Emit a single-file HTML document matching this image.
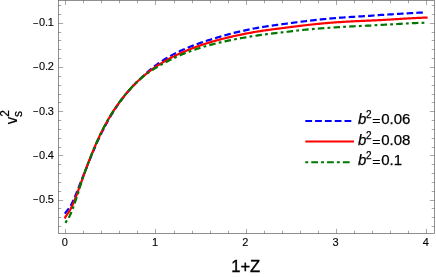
<!DOCTYPE html>
<html><head><meta charset="utf-8"><title>plot</title>
<style>html,body{margin:0;padding:0;background:#fff;}body{width:436px;height:277px;position:relative;overflow:hidden;font-family:"Liberation Sans",sans-serif;} .t, .t text, .t tspan{font-family:"Liberation Sans",sans-serif;}</style></head>
<body>
<svg width="436" height="277" viewBox="0 0 436 277" style="position:absolute;left:0;top:0;will-change:transform">
<rect width="436" height="277" fill="#fff"/>
<g fill="none" stroke-width="2.2" stroke-linejoin="round">
<path d="M64.90,213.70 L65.35,213.00 L65.80,212.36 L66.26,211.75 L66.71,211.17 L67.16,210.61 L67.61,210.04 L68.06,209.47 L68.51,208.88 L68.97,208.27 L69.42,207.64 L69.87,206.97 L70.32,206.26 L70.77,205.52 L71.23,204.73 L71.68,203.89 L72.13,202.99 L72.58,202.06 L73.03,201.08 L73.48,200.07 L73.94,199.03 L74.39,197.97 L74.84,196.91 L75.29,195.84 L75.74,194.78 L76.20,193.70 L76.65,192.60 L77.10,191.48 L77.55,190.33 L78.00,189.16 L78.46,187.98 L78.91,186.80 L79.36,185.62 L79.81,184.45 L80.26,183.29 L80.71,182.14 L81.17,180.99 L81.62,179.84 L82.07,178.70 L82.52,177.58 L82.97,176.45 L83.43,175.33 L83.88,174.20 L84.33,173.07 L84.78,171.93 L85.23,170.79 L85.68,169.64 L86.14,168.50 L86.59,167.36 L87.04,166.22 L87.49,165.09 L87.94,163.97 L88.40,162.87 L88.85,161.78 L89.30,160.69 L89.75,159.62 L90.20,158.54 L90.65,157.48 L91.11,156.42 L91.56,155.35 L92.01,154.29 L92.46,153.23 L92.91,152.16 L93.37,151.09 L93.82,150.01 L94.27,148.93 L94.72,147.87 L95.17,146.81 L95.63,145.76 L96.08,144.72 L96.53,143.69 L96.98,142.67 L97.43,141.66 L97.88,140.66 L98.34,139.66 L98.79,138.68 L99.24,137.71 L99.69,136.75 L100.14,135.80 L100.60,134.86 L101.05,133.93 L101.50,133.00 L101.95,132.09 L102.40,131.19 L102.85,130.29 L103.31,129.41 L103.76,128.53 L104.21,127.66 L104.66,126.80 L105.11,125.94 L105.57,125.10 L106.02,124.26 L106.47,123.43 L106.92,122.61 L107.37,121.79 L107.82,120.99 L108.28,120.19 L108.73,119.39 L109.18,118.61 L109.63,117.83 L110.08,117.06 L110.54,116.30 L110.99,115.54 L111.44,114.80 L111.89,114.05 L112.34,113.32 L112.79,112.59 L113.25,111.87 L113.70,111.16 L114.15,110.46 L114.60,109.76 L115.05,109.06 L115.51,108.38 L115.96,107.70 L116.41,107.03 L116.86,106.36 L117.31,105.70 L117.77,105.04 L118.22,104.40 L118.67,103.75 L119.12,103.12 L119.57,102.48 L120.02,101.86 L120.48,101.24 L120.93,100.62 L121.38,100.01 L121.83,99.41 L122.28,98.81 L122.74,98.22 L123.19,97.63 L123.64,97.05 L124.09,96.47 L124.54,95.89 L124.99,95.32 L125.45,94.76 L125.90,94.20 L126.35,93.64 L126.80,93.09 L127.25,92.54 L127.71,92.00 L128.16,91.46 L128.61,90.92 L129.06,90.39 L129.51,89.87 L129.96,89.34 L130.42,88.83 L130.87,88.32 L131.32,87.82 L131.77,87.32 L132.22,86.82 L132.68,86.34 L133.13,85.85 L133.58,85.38 L134.03,84.91 L134.48,84.44 L134.94,83.98 L135.39,83.52 L135.84,83.07 L136.29,82.62 L136.74,82.18 L137.19,81.74 L137.65,81.30 L138.10,80.87 L138.55,80.44 L139.00,80.01 L139.45,79.58 L139.91,79.16 L140.36,78.73 L140.81,78.31 L141.26,77.88 L141.71,77.45 L142.16,77.02 L142.62,76.58 L143.07,76.15 L143.52,75.72 L143.97,75.29 L144.42,74.87 L144.88,74.44 L145.33,74.02 L145.78,73.61 L146.23,73.20 L146.68,72.79 L147.13,72.39 L147.59,72.00 L148.04,71.61 L148.49,71.22 L148.94,70.83 L149.39,70.45 L149.85,70.07 L150.30,69.69 L150.75,69.32 L151.20,68.95 L151.65,68.58 L152.11,68.21 L152.56,67.85 L153.01,67.49 L153.46,67.14 L153.91,66.79 L154.36,66.44 L154.82,66.09 L155.27,65.75 L155.72,65.41 L156.17,65.08 L156.62,64.74 L157.08,64.42 L157.53,64.09 L157.98,63.77 L158.43,63.45 L158.88,63.13 L159.33,62.81 L159.79,62.50 L160.24,62.19 L160.69,61.88 L161.14,61.58 L161.59,61.27 L162.05,60.98 L162.50,60.68 L162.95,60.39 L163.40,60.10 L163.85,59.81 L164.30,59.53 L164.76,59.25 L165.21,58.97 L165.66,58.70 L166.11,58.43 L166.56,58.16 L167.02,57.89 L167.47,57.63 L167.92,57.37 L168.37,57.11 L168.82,56.85 L169.27,56.60 L169.73,56.34 L170.18,56.09 L170.63,55.84 L171.08,55.60 L171.53,55.35 L171.99,55.11 L172.44,54.87 L172.89,54.63 L173.34,54.39 L173.79,54.15 L174.25,53.92 L174.70,53.69 L175.15,53.46 L175.60,53.23 L176.05,53.00 L176.50,52.78 L176.96,52.55 L177.41,52.33 L177.86,52.11 L178.31,51.89 L178.76,51.67 L179.22,51.46 L179.67,51.24 L180.12,51.03 L180.57,50.82 L181.02,50.61 L181.47,50.40 L181.93,50.19 L182.38,49.99 L182.83,49.79 L183.28,49.59 L183.73,49.39 L184.19,49.19 L184.64,48.99 L185.09,48.80 L185.54,48.60 L185.99,48.41 L186.44,48.22 L186.90,48.03 L187.35,47.84 L187.80,47.66 L188.25,47.47 L188.70,47.29 L189.16,47.11 L189.61,46.92 L190.06,46.74 L190.51,46.57 L190.96,46.39 L191.42,46.21 L191.87,46.03 L192.32,45.86 L192.77,45.68 L193.22,45.51 L193.67,45.34 L194.13,45.17 L194.58,45.00 L195.03,44.83 L195.48,44.66 L195.93,44.49 L196.39,44.33 L196.84,44.16 L197.29,44.00 L197.74,43.84 L198.19,43.67 L198.64,43.51 L199.10,43.35 L199.55,43.19 L200.00,43.03 L201.13,42.64 L202.26,42.26 L203.38,41.87 L204.51,41.50 L205.64,41.13 L206.77,40.76 L207.90,40.40 L209.03,40.05 L210.15,39.69 L211.28,39.34 L212.41,39.00 L213.54,38.65 L214.67,38.31 L215.79,37.97 L216.92,37.63 L218.05,37.29 L219.18,36.96 L220.31,36.63 L221.43,36.30 L222.56,35.98 L223.69,35.66 L224.82,35.34 L225.95,35.03 L227.08,34.72 L228.20,34.41 L229.33,34.11 L230.46,33.81 L231.59,33.51 L232.72,33.22 L233.84,32.93 L234.97,32.65 L236.10,32.38 L237.23,32.10 L238.36,31.84 L239.48,31.58 L240.61,31.32 L241.74,31.06 L242.87,30.81 L244.00,30.56 L245.13,30.31 L246.25,30.07 L247.38,29.83 L248.51,29.60 L249.64,29.37 L250.77,29.14 L251.89,28.92 L253.02,28.70 L254.15,28.48 L255.28,28.27 L256.41,28.06 L257.54,27.86 L258.66,27.66 L259.79,27.47 L260.92,27.28 L262.05,27.09 L263.18,26.91 L264.30,26.73 L265.43,26.55 L266.56,26.38 L267.69,26.21 L268.82,26.04 L269.94,25.88 L271.07,25.72 L272.20,25.56 L273.33,25.40 L274.46,25.24 L275.59,25.09 L276.71,24.93 L277.84,24.78 L278.97,24.63 L280.10,24.48 L281.23,24.33 L282.35,24.18 L283.48,24.03 L284.61,23.88 L285.74,23.73 L286.87,23.58 L287.99,23.43 L289.12,23.27 L290.25,23.12 L291.38,22.97 L292.51,22.82 L293.64,22.67 L294.76,22.52 L295.89,22.37 L297.02,22.22 L298.15,22.08 L299.28,21.93 L300.40,21.78 L301.53,21.64 L302.66,21.50 L303.79,21.36 L304.92,21.22 L306.05,21.09 L307.17,20.95 L308.30,20.82 L309.43,20.69 L310.56,20.57 L311.69,20.44 L312.81,20.31 L313.94,20.18 L315.07,20.06 L316.20,19.93 L317.33,19.81 L318.45,19.69 L319.58,19.57 L320.71,19.45 L321.84,19.33 L322.97,19.21 L324.10,19.10 L325.22,18.98 L326.35,18.87 L327.48,18.76 L328.61,18.65 L329.74,18.54 L330.86,18.44 L331.99,18.34 L333.12,18.24 L334.25,18.15 L335.38,18.06 L336.51,17.97 L337.63,17.88 L338.76,17.80 L339.89,17.71 L341.02,17.63 L342.15,17.55 L343.27,17.48 L344.40,17.40 L345.53,17.32 L346.66,17.25 L347.79,17.17 L348.91,17.10 L350.04,17.02 L351.17,16.95 L352.30,16.88 L353.43,16.81 L354.56,16.74 L355.68,16.67 L356.81,16.60 L357.94,16.54 L359.07,16.47 L360.20,16.41 L361.32,16.34 L362.45,16.28 L363.58,16.21 L364.71,16.15 L365.84,16.08 L366.96,16.02 L368.09,15.95 L369.22,15.88 L370.35,15.80 L371.48,15.71 L372.61,15.61 L373.73,15.51 L374.86,15.40 L375.99,15.30 L377.12,15.20 L378.25,15.11 L379.37,15.03 L380.50,14.97 L381.63,14.90 L382.76,14.84 L383.89,14.78 L385.02,14.71 L386.14,14.64 L387.27,14.58 L388.40,14.51 L389.53,14.44 L390.66,14.37 L391.78,14.30 L392.91,14.23 L394.04,14.16 L395.17,14.09 L396.30,14.02 L397.42,13.95 L398.55,13.88 L399.68,13.81 L400.81,13.74 L401.94,13.67 L403.07,13.60 L404.19,13.53 L405.32,13.46 L406.45,13.39 L407.58,13.32 L408.71,13.26 L409.83,13.19 L410.96,13.12 L412.09,13.06 L413.22,13.00 L414.35,12.94 L415.47,12.88 L416.60,12.82 L417.73,12.76 L418.86,12.71 L419.99,12.65 L421.12,12.60 L422.24,12.55 L423.37,12.50 L424.50,12.45" stroke="#0000ff" stroke-dasharray="6.6 3.08"/>
<path d="M64.60,218.52 L65.05,217.68 L65.51,216.90 L65.96,216.17 L66.41,215.48 L66.86,214.81 L67.32,214.16 L67.77,213.50 L68.22,212.84 L68.68,212.17 L69.13,211.48 L69.58,210.76 L70.03,210.01 L70.49,209.22 L70.94,208.39 L71.39,207.52 L71.85,206.60 L72.30,205.64 L72.75,204.63 L73.20,203.59 L73.66,202.51 L74.11,201.40 L74.56,200.27 L75.02,199.12 L75.47,197.94 L75.92,196.75 L76.37,195.55 L76.83,194.34 L77.28,193.12 L77.73,191.88 L78.19,190.65 L78.64,189.40 L79.09,188.15 L79.54,186.90 L80.00,185.64 L80.45,184.39 L80.90,183.13 L81.36,181.87 L81.81,180.61 L82.26,179.35 L82.71,178.09 L83.17,176.84 L83.62,175.59 L84.07,174.34 L84.53,173.09 L84.98,171.85 L85.43,170.62 L85.88,169.38 L86.34,168.16 L86.79,166.94 L87.24,165.73 L87.69,164.52 L88.15,163.32 L88.60,162.13 L89.05,160.94 L89.51,159.77 L89.96,158.60 L90.41,157.44 L90.86,156.29 L91.32,155.15 L91.77,154.01 L92.22,152.89 L92.68,151.78 L93.13,150.67 L93.58,149.58 L94.03,148.49 L94.49,147.42 L94.94,146.35 L95.39,145.30 L95.85,144.26 L96.30,143.22 L96.75,142.20 L97.20,141.18 L97.66,140.18 L98.11,139.19 L98.56,138.21 L99.02,137.23 L99.47,136.27 L99.92,135.32 L100.37,134.38 L100.83,133.45 L101.28,132.53 L101.73,131.61 L102.19,130.71 L102.64,129.82 L103.09,128.93 L103.54,128.06 L104.00,127.19 L104.45,126.33 L104.90,125.48 L105.36,124.64 L105.81,123.81 L106.26,122.99 L106.71,122.17 L107.17,121.36 L107.62,120.56 L108.07,119.77 L108.53,118.99 L108.98,118.21 L109.43,117.44 L109.88,116.68 L110.34,115.93 L110.79,115.18 L111.24,114.44 L111.70,113.71 L112.15,112.98 L112.60,112.27 L113.05,111.55 L113.51,110.85 L113.96,110.15 L114.41,109.46 L114.87,108.78 L115.32,108.10 L115.77,107.43 L116.22,106.76 L116.68,106.10 L117.13,105.45 L117.58,104.80 L118.04,104.16 L118.49,103.53 L118.94,102.90 L119.39,102.28 L119.85,101.66 L120.30,101.05 L120.75,100.44 L121.21,99.84 L121.66,99.25 L122.11,98.66 L122.56,98.07 L123.02,97.50 L123.47,96.92 L123.92,96.36 L124.38,95.79 L124.83,95.23 L125.28,94.68 L125.73,94.13 L126.19,93.59 L126.64,93.05 L127.09,92.52 L127.55,91.99 L128.00,91.47 L128.45,90.95 L128.90,90.44 L129.36,89.93 L129.81,89.42 L130.26,88.92 L130.72,88.43 L131.17,87.93 L131.62,87.45 L132.07,86.96 L132.53,86.49 L132.98,86.01 L133.43,85.54 L133.88,85.08 L134.34,84.61 L134.79,84.16 L135.24,83.70 L135.70,83.25 L136.15,82.81 L136.60,82.36 L137.05,81.93 L137.51,81.49 L137.96,81.06 L138.41,80.63 L138.87,80.21 L139.32,79.79 L139.77,79.38 L140.22,78.97 L140.68,78.56 L141.13,78.15 L141.58,77.75 L142.04,77.35 L142.49,76.96 L142.94,76.57 L143.39,76.18 L143.85,75.80 L144.30,75.41 L144.75,75.04 L145.21,74.66 L145.66,74.29 L146.11,73.92 L146.56,73.56 L147.02,73.20 L147.47,72.84 L147.92,72.48 L148.38,72.13 L148.83,71.78 L149.28,71.44 L149.73,71.09 L150.19,70.75 L150.64,70.42 L151.09,70.08 L151.55,69.75 L152.00,69.42 L152.45,69.10 L152.90,68.77 L153.36,68.45 L153.81,68.13 L154.26,67.82 L154.72,67.51 L155.17,67.20 L155.62,66.89 L156.07,66.59 L156.53,66.28 L156.98,65.98 L157.43,65.69 L157.89,65.39 L158.34,65.10 L158.79,64.81 L159.24,64.52 L159.70,64.23 L160.15,63.95 L160.60,63.67 L161.06,63.39 L161.51,63.11 L161.96,62.84 L162.41,62.57 L162.87,62.30 L163.32,62.03 L163.77,61.76 L164.23,61.50 L164.68,61.24 L165.13,60.98 L165.58,60.72 L166.04,60.46 L166.49,60.21 L166.94,59.96 L167.40,59.70 L167.85,59.46 L168.30,59.21 L168.75,58.96 L169.21,58.72 L169.66,58.48 L170.11,58.24 L170.57,58.00 L171.02,57.77 L171.47,57.53 L171.92,57.30 L172.38,57.07 L172.83,56.84 L173.28,56.61 L173.74,56.39 L174.19,56.16 L174.64,55.94 L175.09,55.72 L175.55,55.50 L176.00,55.28 L176.45,55.06 L176.91,54.85 L177.36,54.63 L177.81,54.42 L178.26,54.21 L178.72,54.00 L179.17,53.79 L179.62,53.59 L180.07,53.38 L180.53,53.18 L180.98,52.97 L181.43,52.77 L181.89,52.57 L182.34,52.37 L182.79,52.18 L183.24,51.98 L183.70,51.79 L184.15,51.59 L184.60,51.40 L185.06,51.21 L185.51,51.02 L185.96,50.83 L186.41,50.65 L186.87,50.46 L187.32,50.27 L187.77,50.09 L188.23,49.91 L188.68,49.73 L189.13,49.55 L189.58,49.37 L190.04,49.19 L190.49,49.01 L190.94,48.84 L191.40,48.66 L191.85,48.49 L192.30,48.32 L192.75,48.15 L193.21,47.98 L193.66,47.81 L194.11,47.64 L194.57,47.47 L195.02,47.30 L195.47,47.14 L195.92,46.98 L196.38,46.81 L196.83,46.65 L197.28,46.49 L197.74,46.33 L198.19,46.17 L198.64,46.01 L199.09,45.85 L199.55,45.70 L200.00,45.54 L201.14,45.15 L202.29,44.77 L203.43,44.40 L204.57,44.02 L205.72,43.66 L206.86,43.30 L208.01,42.94 L209.15,42.59 L210.29,42.25 L211.44,41.91 L212.58,41.57 L213.72,41.24 L214.87,40.92 L216.01,40.60 L217.16,40.28 L218.30,39.97 L219.44,39.67 L220.59,39.36 L221.73,39.06 L222.87,38.77 L224.02,38.48 L225.16,38.20 L226.31,37.91 L227.45,37.64 L228.59,37.36 L229.74,37.09 L230.88,36.82 L232.02,36.56 L233.17,36.30 L234.31,36.05 L235.46,35.79 L236.60,35.55 L237.74,35.30 L238.89,35.06 L240.03,34.82 L241.17,34.58 L242.32,34.35 L243.46,34.12 L244.61,33.90 L245.75,33.67 L246.89,33.45 L248.04,33.24 L249.18,33.02 L250.32,32.81 L251.47,32.60 L252.61,32.39 L253.75,32.19 L254.90,31.99 L256.04,31.79 L257.19,31.60 L258.33,31.41 L259.47,31.23 L260.62,31.05 L261.76,30.87 L262.90,30.70 L264.05,30.53 L265.19,30.36 L266.34,30.20 L267.48,30.04 L268.62,29.88 L269.77,29.72 L270.91,29.57 L272.05,29.42 L273.20,29.27 L274.34,29.12 L275.49,28.97 L276.63,28.83 L277.77,28.68 L278.92,28.54 L280.06,28.39 L281.20,28.25 L282.35,28.11 L283.49,27.97 L284.64,27.82 L285.78,27.68 L286.92,27.53 L288.07,27.39 L289.21,27.24 L290.35,27.10 L291.50,26.95 L292.64,26.81 L293.78,26.66 L294.93,26.52 L296.07,26.37 L297.22,26.23 L298.36,26.09 L299.50,25.95 L300.65,25.81 L301.79,25.67 L302.93,25.53 L304.08,25.40 L305.22,25.27 L306.37,25.14 L307.51,25.01 L308.65,24.89 L309.80,24.76 L310.94,24.64 L312.08,24.52 L313.23,24.39 L314.37,24.27 L315.52,24.15 L316.66,24.03 L317.80,23.92 L318.95,23.80 L320.09,23.69 L321.23,23.58 L322.38,23.47 L323.52,23.36 L324.67,23.25 L325.81,23.15 L326.95,23.05 L328.10,22.95 L329.24,22.86 L330.38,22.76 L331.53,22.68 L332.67,22.59 L333.82,22.50 L334.96,22.42 L336.10,22.34 L337.25,22.26 L338.39,22.19 L339.53,22.11 L340.68,22.04 L341.82,21.97 L342.96,21.90 L344.11,21.83 L345.25,21.76 L346.40,21.69 L347.54,21.63 L348.68,21.56 L349.83,21.50 L350.97,21.43 L352.11,21.37 L353.26,21.31 L354.40,21.25 L355.55,21.19 L356.69,21.14 L357.83,21.08 L358.98,21.03 L360.12,20.98 L361.26,20.93 L362.41,20.88 L363.55,20.83 L364.70,20.78 L365.84,20.73 L366.98,20.68 L368.13,20.63 L369.27,20.58 L370.41,20.53 L371.56,20.49 L372.70,20.44 L373.85,20.39 L374.99,20.33 L376.13,20.28 L377.28,20.23 L378.42,20.17 L379.56,20.12 L380.71,20.06 L381.85,20.00 L382.99,19.94 L384.14,19.87 L385.28,19.81 L386.43,19.75 L387.57,19.68 L388.71,19.61 L389.86,19.54 L391.00,19.48 L392.14,19.41 L393.29,19.34 L394.43,19.27 L395.58,19.20 L396.72,19.13 L397.86,19.05 L399.01,18.98 L400.15,18.91 L401.29,18.84 L402.44,18.77 L403.58,18.70 L404.73,18.64 L405.87,18.57 L407.01,18.50 L408.16,18.43 L409.30,18.37 L410.44,18.31 L411.59,18.24 L412.73,18.18 L413.88,18.12 L415.02,18.06 L416.16,18.01 L417.31,17.95 L418.45,17.90 L419.59,17.85 L420.74,17.80 L421.88,17.75 L423.03,17.71 L424.17,17.66 L425.31,17.61 L426.46,17.57 L427.60,17.53" stroke="#ff0000"/>
<path d="M65.40,222.80 L65.85,222.08 L66.30,221.38 L66.75,220.70 L67.20,220.02 L67.65,219.33 L68.10,218.64 L68.55,217.92 L69.00,217.18 L69.45,216.36 L69.90,215.46 L70.35,214.47 L70.80,213.44 L71.25,212.38 L71.70,211.27 L72.15,210.11 L72.60,208.91 L73.05,207.68 L73.50,206.42 L73.95,205.14 L74.40,203.87 L74.85,202.61 L75.30,201.34 L75.75,200.07 L76.20,198.79 L76.65,197.47 L77.10,196.12 L77.55,194.73 L78.00,193.31 L78.45,191.87 L78.91,190.41 L79.36,188.91 L79.81,187.39 L80.26,185.89 L80.71,184.44 L81.16,182.99 L81.61,181.58 L82.06,180.21 L82.51,178.86 L82.96,177.52 L83.41,176.21 L83.86,174.94 L84.31,173.69 L84.76,172.46 L85.21,171.23 L85.66,170.00 L86.11,168.78 L86.56,167.56 L87.01,166.35 L87.46,165.15 L87.91,163.95 L88.36,162.76 L88.81,161.58 L89.26,160.41 L89.71,159.24 L90.16,158.09 L90.61,156.94 L91.06,155.80 L91.51,154.67 L91.96,153.54 L92.41,152.43 L92.86,151.33 L93.31,150.23 L93.76,149.15 L94.21,148.07 L94.66,147.01 L95.11,145.96 L95.56,144.91 L96.01,143.88 L96.46,142.85 L96.91,141.84 L97.36,140.83 L97.81,139.84 L98.26,138.86 L98.71,137.89 L99.16,136.92 L99.61,135.97 L100.06,135.03 L100.51,134.09 L100.96,133.17 L101.41,132.26 L101.86,131.35 L102.31,130.46 L102.76,129.57 L103.21,128.69 L103.66,127.83 L104.11,126.97 L104.56,126.12 L105.01,125.27 L105.46,124.44 L105.92,123.61 L106.37,122.80 L106.82,121.99 L107.27,121.19 L107.72,120.39 L108.17,119.61 L108.62,118.83 L109.07,118.06 L109.52,117.30 L109.97,116.54 L110.42,115.79 L110.87,115.05 L111.32,114.32 L111.77,113.59 L112.22,112.87 L112.67,112.16 L113.12,111.45 L113.57,110.76 L114.02,110.06 L114.47,109.38 L114.92,108.70 L115.37,108.02 L115.82,107.36 L116.27,106.70 L116.72,106.04 L117.17,105.39 L117.62,104.75 L118.07,104.11 L118.52,103.48 L118.97,102.86 L119.42,102.24 L119.87,101.63 L120.32,101.02 L120.77,100.42 L121.22,99.82 L121.67,99.23 L122.12,98.65 L122.57,98.07 L123.02,97.49 L123.47,96.92 L123.92,96.36 L124.37,95.80 L124.82,95.24 L125.27,94.69 L125.72,94.15 L126.17,93.61 L126.62,93.07 L127.07,92.54 L127.52,92.02 L127.97,91.50 L128.42,90.98 L128.87,90.47 L129.32,89.96 L129.77,89.46 L130.22,88.96 L130.67,88.47 L131.12,87.98 L131.57,87.50 L132.02,87.02 L132.47,86.54 L132.93,86.07 L133.38,85.60 L133.83,85.14 L134.28,84.68 L134.73,84.22 L135.18,83.77 L135.63,83.32 L136.08,82.88 L136.53,82.44 L136.98,82.00 L137.43,81.57 L137.88,81.14 L138.33,80.72 L138.78,80.30 L139.23,79.89 L139.68,79.49 L140.13,79.10 L140.58,78.71 L141.03,78.32 L141.48,77.95 L141.93,77.57 L142.38,77.21 L142.83,76.84 L143.28,76.48 L143.73,76.13 L144.18,75.77 L144.63,75.42 L145.08,75.07 L145.53,74.73 L145.98,74.39 L146.43,74.05 L146.88,73.72 L147.33,73.39 L147.78,73.07 L148.23,72.75 L148.68,72.44 L149.13,72.13 L149.58,71.82 L150.03,71.52 L150.48,71.21 L150.93,70.92 L151.38,70.62 L151.83,70.33 L152.28,70.03 L152.73,69.75 L153.18,69.46 L153.63,69.17 L154.08,68.89 L154.53,68.60 L154.98,68.32 L155.43,68.04 L155.88,67.76 L156.33,67.49 L156.78,67.21 L157.23,66.94 L157.68,66.67 L158.13,66.40 L158.58,66.14 L159.03,65.88 L159.48,65.61 L159.94,65.35 L160.39,65.10 L160.84,64.84 L161.29,64.58 L161.74,64.33 L162.19,64.08 L162.64,63.83 L163.09,63.58 L163.54,63.34 L163.99,63.09 L164.44,62.85 L164.89,62.61 L165.34,62.37 L165.79,62.14 L166.24,61.90 L166.69,61.67 L167.14,61.44 L167.59,61.21 L168.04,60.98 L168.49,60.75 L168.94,60.53 L169.39,60.31 L169.84,60.09 L170.29,59.87 L170.74,59.65 L171.19,59.43 L171.64,59.21 L172.09,59.00 L172.54,58.78 L172.99,58.56 L173.44,58.35 L173.89,58.14 L174.34,57.92 L174.79,57.71 L175.24,57.50 L175.69,57.29 L176.14,57.08 L176.59,56.87 L177.04,56.66 L177.49,56.45 L177.94,56.24 L178.39,56.04 L178.84,55.83 L179.29,55.63 L179.74,55.43 L180.19,55.23 L180.64,55.03 L181.09,54.83 L181.54,54.63 L181.99,54.44 L182.44,54.25 L182.89,54.06 L183.34,53.87 L183.79,53.68 L184.24,53.49 L184.69,53.31 L185.14,53.13 L185.59,52.95 L186.04,52.77 L186.49,52.60 L186.95,52.43 L187.40,52.26 L187.85,52.09 L188.30,51.93 L188.75,51.76 L189.20,51.60 L189.65,51.43 L190.10,51.27 L190.55,51.11 L191.00,50.95 L191.45,50.78 L191.90,50.62 L192.35,50.47 L192.80,50.31 L193.25,50.15 L193.70,49.99 L194.15,49.84 L194.60,49.68 L195.05,49.53 L195.50,49.38 L195.95,49.23 L196.40,49.08 L196.85,48.93 L197.30,48.78 L197.75,48.63 L198.20,48.49 L198.65,48.34 L199.10,48.20 L199.55,48.05 L200.00,47.91 L201.14,47.55 L202.27,47.20 L203.41,46.86 L204.54,46.52 L205.68,46.19 L206.81,45.86 L207.95,45.54 L209.09,45.23 L210.22,44.92 L211.36,44.61 L212.49,44.32 L213.63,44.02 L214.76,43.73 L215.90,43.45 L217.04,43.17 L218.17,42.90 L219.31,42.63 L220.44,42.36 L221.58,42.10 L222.71,41.84 L223.85,41.59 L224.98,41.34 L226.12,41.09 L227.26,40.85 L228.39,40.61 L229.53,40.38 L230.66,40.14 L231.80,39.91 L232.93,39.69 L234.07,39.47 L235.21,39.25 L236.34,39.03 L237.48,38.82 L238.61,38.61 L239.75,38.40 L240.88,38.19 L242.02,37.99 L243.16,37.79 L244.29,37.59 L245.43,37.39 L246.56,37.20 L247.70,37.01 L248.83,36.82 L249.97,36.63 L251.11,36.44 L252.24,36.26 L253.38,36.08 L254.51,35.90 L255.65,35.72 L256.78,35.55 L257.92,35.38 L259.06,35.21 L260.19,35.05 L261.33,34.89 L262.46,34.74 L263.60,34.58 L264.73,34.43 L265.87,34.29 L267.01,34.14 L268.14,34.00 L269.28,33.86 L270.41,33.73 L271.55,33.59 L272.68,33.46 L273.82,33.32 L274.95,33.19 L276.09,33.06 L277.23,32.93 L278.36,32.80 L279.50,32.67 L280.63,32.54 L281.77,32.41 L282.90,32.28 L284.04,32.15 L285.18,32.02 L286.31,31.88 L287.45,31.75 L288.58,31.61 L289.72,31.48 L290.85,31.34 L291.99,31.20 L293.13,31.06 L294.26,30.92 L295.40,30.78 L296.53,30.65 L297.67,30.51 L298.80,30.38 L299.94,30.24 L301.08,30.12 L302.21,29.99 L303.35,29.87 L304.48,29.76 L305.62,29.65 L306.75,29.54 L307.89,29.44 L309.03,29.34 L310.16,29.24 L311.30,29.14 L312.43,29.05 L313.57,28.96 L314.70,28.86 L315.84,28.77 L316.97,28.68 L318.11,28.60 L319.25,28.51 L320.38,28.42 L321.52,28.33 L322.65,28.25 L323.79,28.16 L324.92,28.08 L326.06,28.00 L327.20,27.92 L328.33,27.84 L329.47,27.77 L330.60,27.70 L331.74,27.62 L332.87,27.55 L334.01,27.48 L335.15,27.41 L336.28,27.33 L337.42,27.25 L338.55,27.18 L339.69,27.10 L340.82,27.03 L341.96,26.96 L343.10,26.89 L344.23,26.82 L345.37,26.76 L346.50,26.69 L347.64,26.62 L348.77,26.56 L349.91,26.49 L351.05,26.43 L352.18,26.37 L353.32,26.31 L354.45,26.25 L355.59,26.19 L356.72,26.13 L357.86,26.08 L358.99,26.03 L360.13,25.98 L361.27,25.93 L362.40,25.88 L363.54,25.83 L364.67,25.78 L365.81,25.73 L366.94,25.68 L368.08,25.63 L369.22,25.59 L370.35,25.53 L371.49,25.47 L372.62,25.40 L373.76,25.33 L374.89,25.25 L376.03,25.18 L377.17,25.11 L378.30,25.04 L379.44,24.97 L380.57,24.91 L381.71,24.86 L382.84,24.80 L383.98,24.74 L385.12,24.68 L386.25,24.61 L387.39,24.55 L388.52,24.49 L389.66,24.42 L390.79,24.36 L391.93,24.30 L393.07,24.23 L394.20,24.17 L395.34,24.10 L396.47,24.04 L397.61,23.98 L398.74,23.91 L399.88,23.85 L401.02,23.78 L402.15,23.72 L403.29,23.66 L404.42,23.60 L405.56,23.54 L406.69,23.48 L407.83,23.42 L408.96,23.36 L410.10,23.31 L411.24,23.25 L412.37,23.20 L413.51,23.15 L414.64,23.10 L415.78,23.05 L416.91,23.00 L418.05,22.96 L419.19,22.91 L420.32,22.87 L421.46,22.83 L422.59,22.79 L423.73,22.75 L424.86,22.72 L426.00,22.68" stroke="#007800" stroke-dasharray="2.8 3.2 6.5 3.2"/>
</g>
<g stroke="#666666" stroke-width="0.72" fill="none">
<rect x="58.5" y="0.5" width="376.0" height="233.0"/>
</g>
<g stroke="#666666" stroke-width="0.58" fill="none">
<path d="M65.5,233.8 v-4.9 M65.5,0.2 v4.9"/>
<path d="M83.5,233.8 v-3.1 M83.5,0.2 v3.1"/>
<path d="M101.5,233.8 v-3.1 M101.5,0.2 v3.1"/>
<path d="M119.5,233.8 v-3.1 M119.5,0.2 v3.1"/>
<path d="M137.5,233.8 v-3.1 M137.5,0.2 v3.1"/>
<path d="M155.5,233.8 v-4.9 M155.5,0.2 v4.9"/>
<path d="M174.5,233.8 v-3.1 M174.5,0.2 v3.1"/>
<path d="M192.5,233.8 v-3.1 M192.5,0.2 v3.1"/>
<path d="M210.5,233.8 v-3.1 M210.5,0.2 v3.1"/>
<path d="M228.5,233.8 v-3.1 M228.5,0.2 v3.1"/>
<path d="M246.5,233.8 v-4.9 M246.5,0.2 v4.9"/>
<path d="M264.5,233.8 v-3.1 M264.5,0.2 v3.1"/>
<path d="M282.5,233.8 v-3.1 M282.5,0.2 v3.1"/>
<path d="M300.5,233.8 v-3.1 M300.5,0.2 v3.1"/>
<path d="M318.5,233.8 v-3.1 M318.5,0.2 v3.1"/>
<path d="M336.5,233.8 v-4.9 M336.5,0.2 v4.9"/>
<path d="M354.5,233.8 v-3.1 M354.5,0.2 v3.1"/>
<path d="M372.5,233.8 v-3.1 M372.5,0.2 v3.1"/>
<path d="M390.5,233.8 v-3.1 M390.5,0.2 v3.1"/>
<path d="M408.5,233.8 v-3.1 M408.5,0.2 v3.1"/>
<path d="M426.5,233.8 v-4.9 M426.5,0.2 v4.9"/>
<path d="M58.2,226.5 h3.1 M434.8,226.5 h-3.1"/>
<path d="M58.2,217.5 h3.1 M434.8,217.5 h-3.1"/>
<path d="M58.2,208.5 h3.1 M434.8,208.5 h-3.1"/>
<path d="M58.2,200.5 h4.9 M434.8,200.5 h-4.9"/>
<path d="M58.2,191.5 h3.1 M434.8,191.5 h-3.1"/>
<path d="M58.2,182.5 h3.1 M434.8,182.5 h-3.1"/>
<path d="M58.2,173.5 h3.1 M434.8,173.5 h-3.1"/>
<path d="M58.2,164.5 h3.1 M434.8,164.5 h-3.1"/>
<path d="M58.2,155.5 h4.9 M434.8,155.5 h-4.9"/>
<path d="M58.2,147.5 h3.1 M434.8,147.5 h-3.1"/>
<path d="M58.2,138.5 h3.1 M434.8,138.5 h-3.1"/>
<path d="M58.2,129.5 h3.1 M434.8,129.5 h-3.1"/>
<path d="M58.2,120.5 h3.1 M434.8,120.5 h-3.1"/>
<path d="M58.2,111.5 h4.9 M434.8,111.5 h-4.9"/>
<path d="M58.2,102.5 h3.1 M434.8,102.5 h-3.1"/>
<path d="M58.2,94.5 h3.1 M434.8,94.5 h-3.1"/>
<path d="M58.2,85.5 h3.1 M434.8,85.5 h-3.1"/>
<path d="M58.2,76.5 h3.1 M434.8,76.5 h-3.1"/>
<path d="M58.2,67.5 h4.9 M434.8,67.5 h-4.9"/>
<path d="M58.2,58.5 h3.1 M434.8,58.5 h-3.1"/>
<path d="M58.2,49.5 h3.1 M434.8,49.5 h-3.1"/>
<path d="M58.2,40.5 h3.1 M434.8,40.5 h-3.1"/>
<path d="M58.2,32.5 h3.1 M434.8,32.5 h-3.1"/>
<path d="M58.2,23.5 h4.9 M434.8,23.5 h-4.9"/>
<path d="M58.2,14.5 h3.1 M434.8,14.5 h-3.1"/>
<path d="M58.2,5.5 h3.1 M434.8,5.5 h-3.1"/>
</g>
<g class="t" font-size="11" fill="#000" stroke="#000" stroke-width="0.12">
<text x="64.90" y="246" text-anchor="middle">0</text>
<text x="155.15" y="246" text-anchor="middle">1</text>
<text x="245.40" y="246" text-anchor="middle">2</text>
<text x="335.65" y="246" text-anchor="middle">3</text>
<text x="425.90" y="246" text-anchor="middle">4</text>
<text x="53.7" y="26" text-anchor="end" letter-spacing="-0.2">0.1</text>
<text transform="translate(32.75,27) scale(0.89,1)">−</text>
<text x="53.7" y="70" text-anchor="end" letter-spacing="-0.2">0.2</text>
<text transform="translate(32.75,71) scale(0.89,1)">−</text>
<text x="53.7" y="115" text-anchor="end" letter-spacing="-0.2">0.3</text>
<text transform="translate(32.75,115) scale(0.89,1)">−</text>
<text x="53.7" y="159" text-anchor="end" letter-spacing="-0.2">0.4</text>
<text transform="translate(32.75,160) scale(0.89,1)">−</text>
<text x="53.7" y="203" text-anchor="end" letter-spacing="-0.2">0.5</text>
<text transform="translate(32.75,203) scale(0.89,1)">−</text>
</g>
<g class="t" fill="#000" stroke="#000" stroke-width="0.25">
<text x="231.2" y="272.2" font-size="16.6" stroke-width="0.35">1+Z</text>
<g transform="translate(17.0,124.2) rotate(-90)"><text x="0" y="0" font-size="16" transform="scale(0.92,1)" stroke-width="0.1">v</text><text x="7.5" y="-8.3" font-size="12">2</text><text x="7.2" y="5.0" font-size="12">s</text></g>
</g>
<g fill="none" stroke-width="2.0">
<path d="M305.3,121.0 H353.5" stroke="#0000ff" stroke-dasharray="6.8 3.0"/>
<path d="M305.3,141.5 H354.0" stroke="#ff0000"/>
<path d="M305.3,162.3 H350.0" stroke="#007800" stroke-dasharray="2.9 3.05 6.8 3.05"/>
</g>
<g class="t" font-size="15" fill="#000" stroke="#000" stroke-width="0.25">
<text x="358" y="124" font-style="italic">b</text><text x="365.9" y="118" font-size="10">2</text><text x="381.2" y="124">0.06</text>
<text transform="translate(372.2,125.2) scale(0.94,0.88)">=</text>
<text x="358" y="145" font-style="italic">b</text><text x="365.9" y="139" font-size="10">2</text><text x="381.2" y="145">0.08</text>
<text transform="translate(372.2,146.2) scale(0.94,0.88)">=</text>
<text x="358" y="165" font-style="italic">b</text><text x="365.9" y="159" font-size="10">2</text><text x="381.2" y="165">0.1</text>
<text transform="translate(372.2,166.2) scale(0.94,0.88)">=</text>
</g>
</svg>
</body></html>
